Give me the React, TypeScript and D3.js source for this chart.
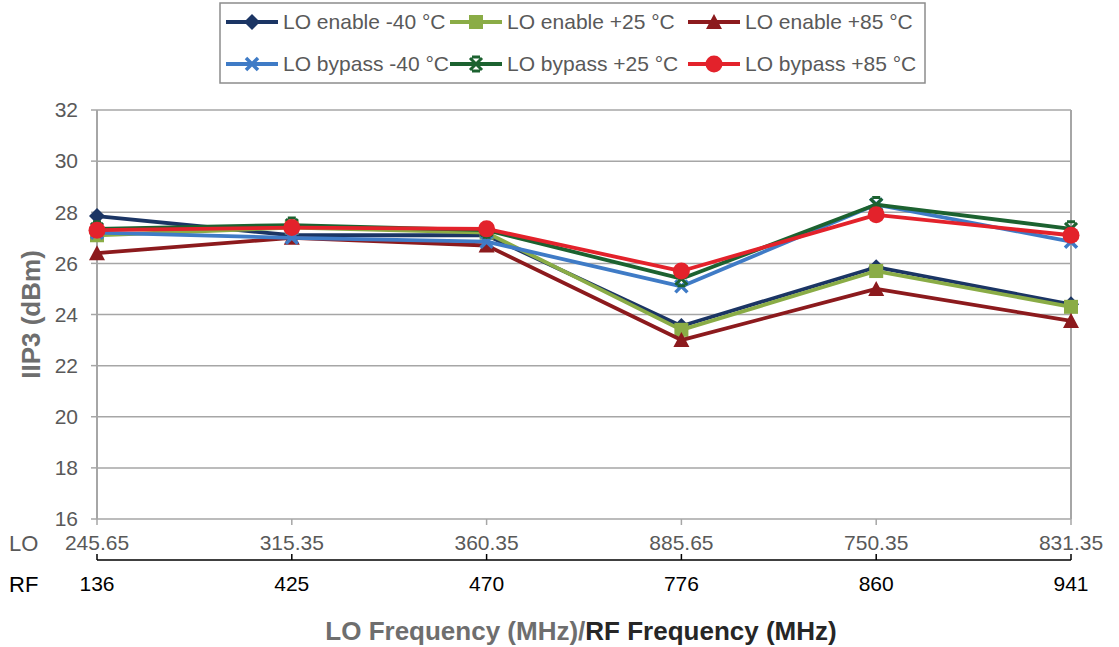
import React from "react";
import * as d3 from "d3";

// category labels for the two x rows
const loFreqs = ["245.65", "315.35", "360.35", "885.65", "750.35", "831.35"];
const rfFreqs = ["136", "425", "470", "776", "860", "941"];
const yTicks = [16, 18, 20, 22, 24, 26, 28, 30, 32];

// IIP3 (dBm)
const enableM40 = [27.85, 27.1, 27.1, 23.55, 25.85, 24.4];
const enableP25 = [27.1, 27.4, 27.2, 23.4, 25.7, 24.3];
const enableP85 = [26.4, 27.0, 26.7, 23.0, 25.0, 23.75];
const bypassM40 = [27.2, 27.0, 26.85, 25.1, 28.3, 26.85];
const bypassP25 = [27.35, 27.5, 27.3, 25.4, 28.3, 27.35];
const bypassP85 = [27.3, 27.4, 27.35, 25.7, 27.9, 27.1];

const series = [
  { name: "LO enable -40 °C", values: enableM40, color: "#1b3564", marker: "diamond" },
  { name: "LO enable +25 °C", values: enableP25, color: "#8aac46", marker: "square" },
  { name: "LO enable +85 °C", values: enableP85, color: "#8c1a1d", marker: "triangle" },
  { name: "LO bypass -40 °C", values: bypassM40, color: "#3f7bc6", marker: "x" },
  { name: "LO bypass +25 °C", values: bypassP25, color: "#1c6230", marker: "star" },
  { name: "LO bypass +85 °C", values: bypassP85, color: "#e3222b", marker: "circle" },
];

const font = "Arial, 'Liberation Sans', sans-serif";
const gray = "#595959";

const Marker = ({ type, x, y, color }: { type: string; x: number; y: number; color: string }) => {
  if (type === "diamond")
    return <path d={`M${x},${y - 8}L${x + 8},${y}L${x},${y + 8}L${x - 8},${y}Z`} fill={color} />;
  if (type === "square") return <rect x={x - 7} y={y - 7} width={14} height={14} fill={color} />;
  if (type === "triangle")
    return <path d={`M${x},${y - 8}L${x + 8},${y + 7}L${x - 8},${y + 7}Z`} fill={color} />;
  if (type === "x")
    return (
      <path d={`M${x - 6},${y - 6}L${x + 6},${y + 6}M${x + 6},${y - 6}L${x - 6},${y + 6}`} stroke={color} strokeWidth={3.5} />
    );
  if (type === "star")
    return (
      <path
        d={`M${x - 6},${y - 6}L${x + 6},${y + 6}M${x + 6},${y - 6}L${x - 6},${y + 6}M${x - 4},${y - 7}L${x + 4},${y - 7}M${x - 4},${y + 7}L${x + 4},${y + 7}`}
        stroke={color}
        strokeWidth={3}
      />
    );
  return <circle cx={x} cy={y} r={8.5} fill={color} />;
};

const App = () => {
  const width = 1119;
  const height = 647;
  const left = 97;
  const right = 1071;
  const top = 110;
  const bottom = 519;

  const x = d3.scalePoint<number>().domain(d3.range(loFreqs.length)).range([left, right]);
  const y = d3.scaleLinear().domain([16, 32]).range([bottom, top]);
  const line = d3
    .line<number>()
    .x((d, i) => x(i) as number)
    .y((d) => y(d));

  const legendCols = [226, 450, 688];
  const legendRows = [22, 64];

  return (
    <svg width={width} height={height} style={{ position: "absolute", left: 0, top: 0 }} fontFamily={font}>
      <rect width={width} height={height} fill="#fff" />

      {/* grid */}
      {yTicks.map((t) => (
        <g key={t}>
          <line x1={left} x2={right} y1={y(t)} y2={y(t)} stroke="#a6a6a6" strokeWidth={1.5} />
          <line x1={left - 6} x2={left} y1={y(t)} y2={y(t)} stroke="#a6a6a6" strokeWidth={1.5} />
          <text x={left - 19} y={y(t)} dy="0.35em" textAnchor="end" fontSize={21} fill={gray}>
            {t}
          </text>
        </g>
      ))}
      <line x1={left} x2={left} y1={top} y2={bottom} stroke="#a6a6a6" strokeWidth={2} />
      <line x1={right} x2={right} y1={top} y2={bottom} stroke="#a6a6a6" strokeWidth={2} />

      {/* LO axis row */}
      {loFreqs.map((f, i) => (
        <g key={f}>
          <line x1={x(i)} x2={x(i)} y1={bottom} y2={bottom + 6} stroke="#a6a6a6" strokeWidth={1.5} />
          <text x={x(i)} y={543} dy="0.35em" textAnchor="middle" fontSize={21} fill={gray}>
            {f}
          </text>
        </g>
      ))}
      <text x={9} y={543} dy="0.35em" fontSize={22} fill={gray}>LO</text>

      {/* RF axis row */}
      <line x1={left} x2={right} y1={560} y2={560} stroke="#000" strokeWidth={1.5} />
      {rfFreqs.map((f, i) => (
        <g key={f}>
          <line x1={x(i)} x2={x(i)} y1={554} y2={560} stroke="#000" strokeWidth={1.5} />
          <text x={x(i)} y={584} dy="0.35em" textAnchor="middle" fontSize={21} fill="#000">
            {f}
          </text>
        </g>
      ))}
      <text x={9} y={584} dy="0.35em" fontSize={22} fill="#000">RF</text>

      {/* titles */}
      <text x={581} y={631} dy="0.35em" textAnchor="middle" fontSize={26} fontWeight="bold">
        <tspan fill="#6e6e6e">LO Frequency (MHz)/</tspan>
        <tspan fill="#262626">RF Frequency (MHz)</tspan>
      </text>
      <text
        transform={`translate(31,${(top + bottom) / 2}) rotate(-90)`}
        dy="0.35em"
        textAnchor="middle"
        fontSize={26}
        fontWeight="bold"
        fill="#6e6e6e"
      >
        IIP3 (dBm)
      </text>

      {/* series */}
      {series.map((s) => (
        <g key={s.name}>
          <path d={line(s.values) || ""} fill="none" stroke={s.color} strokeWidth={3.8} strokeLinejoin="round" />
          {s.values.map((v, i) => (
            <Marker key={i} type={s.marker} x={x(i) as number} y={y(v)} color={s.color} />
          ))}
        </g>
      ))}

      {/* legend */}
      <rect x={220} y={3} width={705} height={80} fill="#fff" stroke="#8c8c8c" strokeWidth={1.5} />
      {series.map((s, i) => {
        const lx = legendCols[i % 3];
        const ly = legendRows[Math.floor(i / 3)];
        return (
          <g key={s.name}>
            <line x1={lx} x2={lx + 52} y1={ly} y2={ly} stroke={s.color} strokeWidth={3.8} />
            <Marker type={s.marker} x={lx + 26} y={ly} color={s.color} />
            <text x={lx + 57} y={ly} dy="0.35em" fontSize={21} fill={gray}>
              {s.name}
            </text>
          </g>
        );
      })}
    </svg>
  );
};

export default App;
